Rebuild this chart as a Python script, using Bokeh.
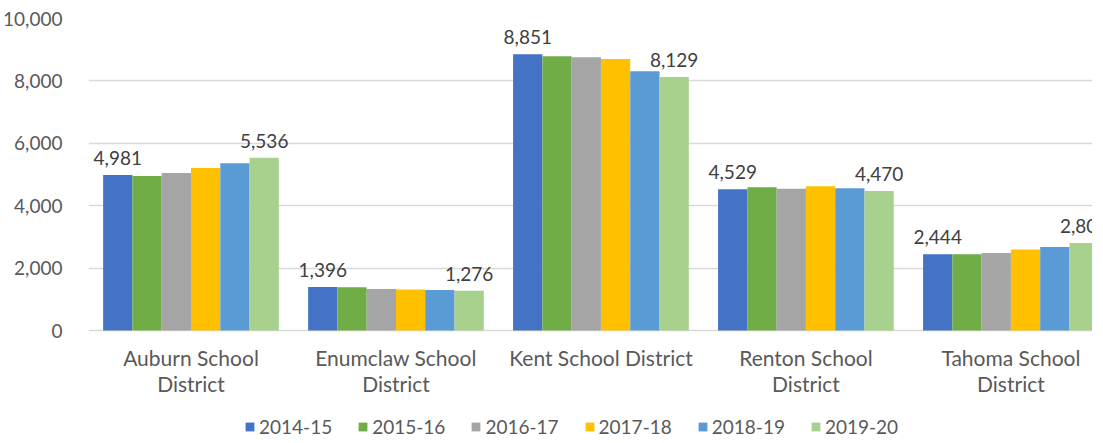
import numpy as np
from bokeh.plotting import figure
from bokeh.models import ColumnDataSource, Range1d, FixedTicker, NumeralTickFormatter, Legend, LegendItem
from bokeh.transform import dodge
from bokeh.core.properties import value
from bokeh.embed import file_html
from bokeh.resources import INLINE

# ---- data ----
districts = ["Auburn School\nDistrict", "Enumclaw School\nDistrict", "Kent School District",
             "Renton School\nDistrict", "Tahoma School\nDistrict"]
years = ["2014-15", "2015-16", "2016-17", "2017-18", "2018-19", "2019-20"]
v2014_15 = [4981, 1396, 8851, 4529, 2444]
v2015_16 = [4950, 1385, 8790, 4593, 2440]
v2016_17 = [5050, 1332, 8758, 4540, 2487]
v2017_18 = [5210, 1311, 8704, 4625, 2594]
v2018_19 = [5360, 1300, 8309, 4561, 2680]
v2019_20 = [5536, 1276, 8129, 4470, 2803]
y_ticks = [0, 2000, 4000, 6000, 8000, 10000]

series = [v2014_15, v2015_16, v2016_17, v2017_18, v2018_19, v2019_20]
colors = ["#4472C4", "#70AD47", "#A5A5A5", "#FFC000", "#5B9BD5", "#A9D18E"]

FONT = "Lato"
src = ColumnDataSource(dict(
    x=list(range(len(districts))),
    base=[0] * len(districts),
    name=districts,
    **{y: s for y, s in zip(years, series)},
    **{y + "_lbl": [f"{v:,}" for v in s] for y, s in zip(years, series)},
))

FRAME_H = 420
PLOT_H = 312  # pixels spanned by 0..10000
y_start = -(FRAME_H - PLOT_H) / PLOT_H * y_ticks[-1]

p = figure(frame_width=1004, frame_height=FRAME_H, output_backend="svg", toolbar_location=None,
           x_range=Range1d(-0.5, 4.398), y_range=Range1d(y_start, y_ticks[-1]),
           min_border_left=86, min_border_right=0, min_border_top=18, min_border_bottom=0)
p.outline_line_color = None
p.background_fill_color = "white"
p.border_fill_color = "white"

bw = 1.0 / 7
items = []
for i, (yr, col) in enumerate(zip(years, colors)):
    off = (i - 2.5) * bw
    r = p.vbar(x=dodge("x", off), top=yr, width=bw, source=src,
               fill_color=col, line_color=None)
    items.append(LegendItem(label=yr, renderers=[r]))
    if i in (0, len(years) - 1):
        p.text(x=dodge("x", off), y=yr, text=yr + "_lbl", source=src,
               text_align="center", text_baseline="alphabetic", y_offset=-17,
               text_font=value(FONT), text_font_size="19px", text_color="#404040")

# category labels under the baseline
p.text(x="x", y="base", text="name", source=src, text_align="center", text_baseline="top",
       y_offset=14, text_font=value(FONT), text_font_size="21px", text_color="#595959",
       text_line_height=1.06)

# axes
p.yaxis.ticker = FixedTicker(ticks=y_ticks)
p.yaxis.formatter = NumeralTickFormatter(format="0,0")
p.yaxis.axis_line_color = None
p.yaxis.major_tick_line_color = None
p.yaxis.minor_tick_line_color = None
p.yaxis.major_label_standoff = 20
p.yaxis.major_label_text_font = FONT
p.yaxis.major_label_text_font_size = "19px"
p.yaxis.major_label_text_color = "#595959"
p.xaxis.visible = False

p.xgrid.grid_line_color = None
p.ygrid.ticker = FixedTicker(ticks=y_ticks)
p.ygrid.grid_line_color = "#D9D9D9"
p.ygrid.grid_line_width = 1.5

legend = Legend(items=items, orientation="horizontal", location=(156, 0))
legend.border_line_color = None
legend.background_fill_alpha = 0
legend.label_text_font = FONT
legend.label_text_font_size = "19px"
legend.label_text_color = "#595959"
legend.glyph_width = 11
legend.glyph_height = 11
legend.label_standoff = 4
legend.spacing = 25
legend.padding = 0
legend.margin = 0
p.add_layout(legend, "center")

open("out.html", "w").write(file_html(p, INLINE))
